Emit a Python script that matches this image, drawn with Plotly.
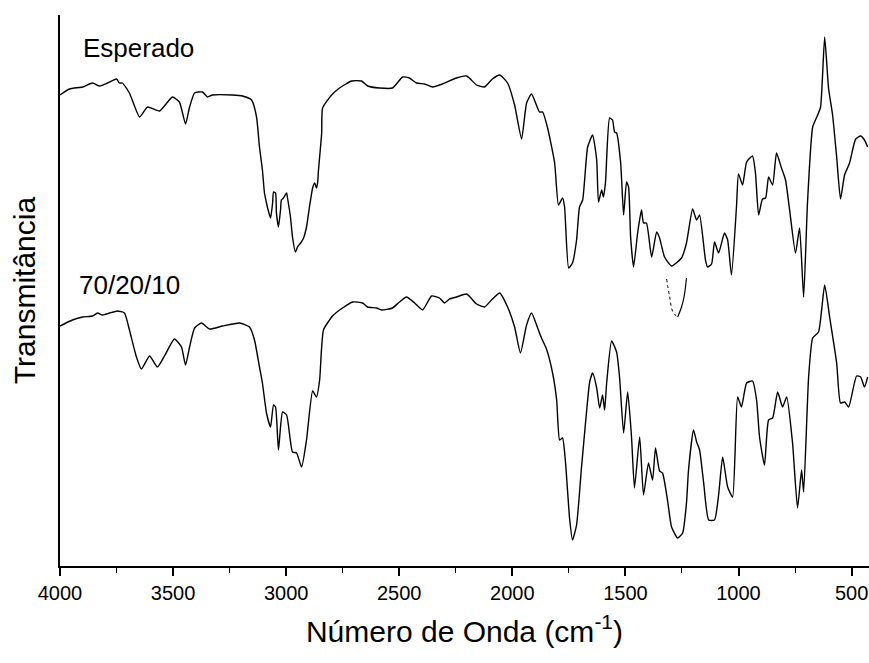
import plotly.graph_objects as go

# FTIR spectra: wavenumber (cm^-1) vs transmittance (arbitrary units, offset stacked)
esperado_wn = [4000, 3958, 3900, 3856, 3825, 3790, 3750, 3737, 3724, 3693, 3648, 3613, 3560, 3503,
               3472, 3445, 3427, 3405, 3370, 3348, 3326, 3237, 3193, 3153, 3131, 3118, 3105, 3096,
               3087, 3082, 3069, 3060, 3056, 3047, 3043, 3034, 3025, 3021, 3012, 2998, 2994, 2981,
               2972, 2959, 2950, 2936, 2923, 2910, 2897, 2883, 2874, 2866, 2861, 2857, 2843, 2839,
               2799, 2764, 2711, 2667, 2640, 2587, 2530, 2485, 2455, 2424, 2388, 2353, 2309, 2247,
               2202, 2158, 2123, 2088, 2056, 2021, 1990, 1959, 1937, 1915, 1880, 1866, 1844, 1813,
               1796, 1778, 1769, 1751, 1734, 1716, 1703, 1689, 1667, 1645, 1627, 1619, 1605, 1597,
               1588, 1570, 1557, 1548, 1539, 1521, 1508, 1495, 1486, 1477, 1464, 1446, 1429, 1420,
               1407, 1384, 1362, 1349, 1327, 1296, 1252, 1230, 1203, 1185, 1172, 1146, 1137, 1119,
               1106, 1088, 1062, 1048, 1031, 1009, 1000, 982, 964, 938, 925, 911, 894, 880, 867,
               849, 832, 810, 792, 774, 748, 730, 712, 695, 672, 650, 637, 619, 602, 584, 566, 549,
               531, 509, 482, 460, 443, 429]
esperado_t = [471, 477, 479, 483, 480, 483, 487, 483, 483, 473, 449, 459, 455, 469,
              464, 442, 459, 473, 474, 469, 471, 471, 470, 466, 449, 419, 396, 373,
              363, 358, 348, 363, 374, 373, 353, 339, 356, 366, 368, 373, 368, 349,
              329, 314, 319, 323, 328, 339, 359, 378, 383, 378, 383, 396, 433, 458,
              471, 478, 485, 485, 480, 478, 478, 489, 488, 483, 482, 479, 482, 488,
              490, 481, 479, 487, 491, 483, 461, 427, 463, 472, 454, 454, 438, 403,
              361, 368, 359, 298, 303, 326, 359, 366, 419, 431, 406, 364, 376, 369,
              384, 448, 446, 434, 433, 403, 351, 384, 379, 329, 299, 333, 356, 343,
              343, 309, 334, 328, 309, 300, 308, 323, 357, 346, 351, 306, 299, 302,
              324, 313, 333, 326, 291, 359, 392, 381, 404, 410, 393, 351, 367, 368, 389,
              381, 413, 398, 386, 356, 313, 338, 269, 363, 439, 451, 459, 529, 478, 451, 409, 367,
              391, 403, 427, 430, 426, 419]

mezcla_wn = [4000, 3945, 3900, 3856, 3834, 3812, 3781, 3746, 3715, 3693, 3662, 3640, 3604, 3569,
             3538, 3494, 3463, 3445, 3427, 3405, 3374, 3339, 3281, 3206, 3162, 3140, 3118, 3105,
             3087, 3069, 3056, 3047, 3034, 3016, 2998, 2972, 2954, 2932, 2910, 2883, 2866, 2852,
             2835, 2795, 2751, 2706, 2662, 2640, 2600, 2578, 2530, 2499, 2468, 2432, 2397, 2357,
             2322, 2300, 2278, 2247, 2202, 2158, 2123, 2088, 2056, 2021, 1990, 1964, 1937, 1915,
             1888, 1871, 1849, 1822, 1804, 1791, 1778, 1765, 1747, 1734, 1716, 1694, 1672, 1658,
             1645, 1627, 1614, 1601, 1592, 1583, 1561, 1539, 1526, 1508, 1490, 1473, 1460, 1437,
             1420, 1398, 1380, 1367, 1349, 1336, 1314, 1296, 1269, 1247, 1230, 1221, 1199, 1185,
             1172, 1154, 1132, 1106, 1088, 1070, 1048, 1026, 1004, 987, 964, 938, 920, 907, 885,
             867, 849, 827, 805, 787, 761, 739, 721, 712, 690, 672, 646, 619, 597, 566, 549, 531,
             513, 478, 460, 443, 429]
mezcla_t = [240, 246, 249, 250, 253, 251, 253, 255, 253, 236, 209, 197, 210, 199,
            210, 227, 219, 201, 219, 238, 243, 237, 240, 243, 239, 226, 199, 183,
            153, 139, 161, 159, 116, 154, 151, 114, 113, 99, 126, 175, 169, 186,
            236, 250, 258, 264, 263, 259, 258, 256, 258, 264, 269, 263, 256, 270,
            268, 263, 267, 269, 272, 262, 259, 267, 273, 259, 239, 213, 241, 253,
            238, 228, 217, 193, 166, 126, 128, 104, 48, 26, 41, 99, 154, 184,
            193, 178, 158, 171, 156, 183, 225, 214, 189, 133, 174, 129, 78, 129,
            71, 103, 86, 118, 95, 93, 66, 39, 28, 33, 63, 96, 136, 124,
            116, 83, 46, 46, 71, 109, 79, 69, 169, 159, 183, 185, 166, 129, 101,
            146, 148, 174, 159, 169, 123, 58, 96, 74, 189, 228, 234, 281, 249, 203, 163, 164,
            159, 190, 189, 179, 189]

# short stray band segment around 1270 cm^-1
band_dot_wn = [1318, 1305, 1290, 1269]
band_dot_t = [287, 270, 254, 249]
band_line_wn = [1269, 1252, 1240, 1230]
band_line_t = [249, 259, 270, 288]

labels = ["Esperado", "70/20/10"]
x_ticks = [4000, 3500, 3000, 2500, 2000, 1500, 1000, 500]

FONT = "Liberation Sans, Arial, sans-serif"

fig = go.Figure()
fig.add_trace(go.Scatter(x=esperado_wn, y=esperado_t, mode="lines",
                         line=dict(color="black", width=1.4, shape="spline", smoothing=0.5),
                         name=labels[0]))
fig.add_trace(go.Scatter(x=mezcla_wn, y=mezcla_t, mode="lines",
                         line=dict(color="black", width=1.4, shape="spline", smoothing=0.5),
                         name=labels[1]))
fig.add_trace(go.Scatter(x=band_dot_wn, y=band_dot_t, mode="lines",
                         line=dict(color="black", width=1, dash="dot", shape="spline")))
fig.add_trace(go.Scatter(x=band_line_wn, y=band_line_t, mode="lines",
                         line=dict(color="black", width=1.2, shape="spline")))

fig.add_annotation(x=3905, y=518, text=labels[0], showarrow=False,
                   xanchor="left", yanchor="middle", font=dict(size=26, color="black", family=FONT))
fig.add_annotation(x=3923, y=281, text=labels[1], showarrow=False,
                   xanchor="left", yanchor="middle", font=dict(size=26, color="black", family=FONT))

fig.update_layout(
    width=869, height=663,
    margin=dict(l=60, r=0, t=15, b=97),
    paper_bgcolor="white", plot_bgcolor="white",
    showlegend=False,
    font=dict(family=FONT, color="black"),
    xaxis=dict(
        range=[4000, 423], tickvals=x_ticks, ticks="outside", ticklen=8, tickwidth=1.5,
        tickcolor="black", showline=True, linewidth=2, linecolor="black",
        showgrid=False, zeroline=False, tickfont=dict(size=20),
        minor=dict(dtick=250, tick0=0, ticks="outside", ticklen=5, tickwidth=1.2, tickcolor="black"),
        title=dict(text="Número de Onda (cm<sup>-1</sup>)", font=dict(size=30), standoff=18),
    ),
    yaxis=dict(
        range=[0, 551], showticklabels=False, ticks="", showline=True, linewidth=2,
        linecolor="black", showgrid=False, zeroline=False,
        title=dict(text="Transmitância", font=dict(size=30), standoff=14),
    ),
)

fig.write_html("out.html")
